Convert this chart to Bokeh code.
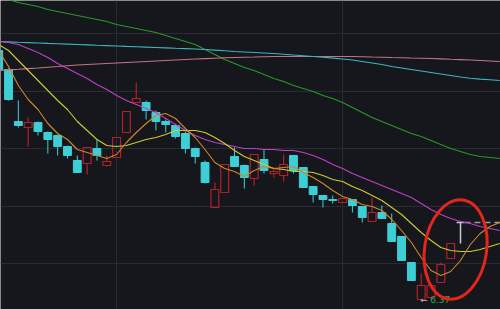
import numpy as np
from bokeh.plotting import figure
from bokeh.models import Range1d, FixedTicker, Grid
from bokeh.core.properties import value
from bokeh.embed import file_html
from bokeh.resources import INLINE

# ---- daily candles (price) ----
open_ = [8.87, 8.68, 8.16, 8.10, 8.15, 8.05, 8.02, 7.91, 7.77, 7.74,
         7.89, 7.72, 7.80, 8.05, 8.35, 8.35, 8.25, 8.16, 8.12, 8.04,
         7.89, 7.75, 7.30, 7.45, 7.81, 7.72, 7.59, 7.78, 7.64, 7.62,
         7.82, 7.70, 7.51, 7.42, 7.38, 7.35, 7.38, 7.31, 7.16, 7.25,
         7.14, 7.01, 6.75, 6.38, 6.40, 6.55, 6.79, 7.15]
high = [8.89, 8.69, 8.37, 8.20, 8.16, 8.06, 8.03, 7.92, 7.82, 7.90,
        7.98, 7.82, 8.00, 8.26, 8.55, 8.37, 8.27, 8.18, 8.13, 8.06,
        7.90, 7.77, 7.55, 7.73, 7.90, 7.73, 7.83, 7.88, 7.70, 7.83,
        7.82, 7.70, 7.51, 7.42, 7.42, 7.40, 7.38, 7.31, 7.40, 7.32,
        7.24, 7.01, 6.75, 6.64, 6.54, 6.75, 6.94, 7.15]
low = [8.67, 8.37, 8.10, 7.91, 8.02, 7.84, 7.82, 7.79, 7.65, 7.63,
       7.77, 7.71, 7.80, 8.05, 8.35, 8.18, 8.07, 8.05, 7.99, 7.84,
       7.74, 7.54, 7.30, 7.45, 7.71, 7.49, 7.52, 7.64, 7.60, 7.56,
       7.64, 7.50, 7.35, 7.30, 7.34, 7.35, 7.25, 7.15, 7.16, 7.19,
       6.96, 6.77, 6.57, 6.37, 6.40, 6.55, 6.79, 6.94]
close = [8.68, 8.38, 8.12, 8.15, 8.06, 7.98, 7.91, 7.82, 7.65, 7.90,
         7.82, 7.76, 8.00, 8.26, 8.39, 8.27, 8.16, 8.13, 8.01, 7.89,
         7.81, 7.55, 7.48, 7.73, 7.71, 7.60, 7.83, 7.67, 7.66, 7.73,
         7.67, 7.50, 7.43, 7.38, 7.37, 7.39, 7.32, 7.20, 7.25, 7.19,
         6.96, 6.77, 6.57, 6.52, 6.52, 6.73, 6.94, 7.15]

# ---- moving averages (price, one value per day slot) ----
ma5 = [8.87, 8.71, 8.52, 8.38, 8.28, 8.14, 8.04, 7.98, 7.88, 7.85,
       7.82, 7.79, 7.83, 7.95, 8.05, 8.14, 8.22, 8.24, 8.19, 8.09,
       8.00, 7.88, 7.75, 7.69, 7.66, 7.61, 7.67, 7.71, 7.69, 7.70,
       7.71, 7.65, 7.60, 7.54, 7.47, 7.41, 7.38, 7.33, 7.31, 7.27,
       7.18, 7.07, 6.95, 6.80, 6.67, 6.62, 6.66, 6.77, 6.93, 7.04,
       7.11, 7.15]
ma10 = [8.93, 8.87, 8.77, 8.67, 8.57, 8.47, 8.37, 8.28, 8.16, 8.07,
        7.98, 7.92, 7.91, 7.92, 7.95, 7.98, 8.00, 8.03, 8.07, 8.07,
        8.07, 8.05, 8.00, 7.94, 7.87, 7.81, 7.77, 7.73, 7.69, 7.68,
        7.66, 7.66, 7.65, 7.62, 7.58, 7.56, 7.51, 7.47, 7.42, 7.37,
        7.30, 7.23, 7.14, 7.05, 6.97, 6.90, 6.87, 6.86, 6.86, 6.88,
        6.91, 6.94]
ma20 = [8.96, 8.95, 8.93, 8.89, 8.85, 8.80, 8.74, 8.69, 8.64, 8.59,
        8.53, 8.48, 8.42, 8.37, 8.33, 8.29, 8.25, 8.19, 8.13, 8.07,
        8.02, 7.98, 7.95, 7.93, 7.91, 7.89, 7.89, 7.88, 7.88, 7.87,
        7.87, 7.85, 7.82, 7.78, 7.73, 7.69, 7.64, 7.60, 7.56, 7.52,
        7.48, 7.44, 7.40, 7.34, 7.28, 7.23, 7.19, 7.16, 7.14, 7.11,
        7.09, 7.07]
ma60 = [9.41, 9.38, 9.35, 9.33, 9.31, 9.28, 9.26, 9.24, 9.22, 9.20,
        9.18, 9.16, 9.13, 9.11, 9.09, 9.07, 9.05, 9.02, 8.99, 8.96,
        8.93, 8.88, 8.83, 8.78, 8.74, 8.70, 8.67, 8.63, 8.59, 8.56,
        8.52, 8.49, 8.46, 8.42, 8.39, 8.35, 8.30, 8.25, 8.20, 8.16,
        8.12, 8.08, 8.04, 8.01, 7.97, 7.93, 7.89, 7.86, 7.83, 7.81,
        7.80, 7.79]
ma120 = [8.960, 8.956, 8.952, 8.949, 8.945, 8.941, 8.938, 8.934, 8.930, 8.926,
         8.922, 8.919, 8.915, 8.911, 8.908, 8.904, 8.900, 8.896, 8.892, 8.889,
         8.885, 8.880, 8.874, 8.867, 8.860, 8.855, 8.850, 8.845, 8.840, 8.833,
         8.825, 8.818, 8.810, 8.802, 8.794, 8.785, 8.775, 8.760, 8.745, 8.730,
         8.710, 8.695, 8.680, 8.665, 8.650, 8.635, 8.620, 8.605, 8.593, 8.584,
         8.577, 8.570]
ma250 = [8.670, 8.676, 8.682, 8.689, 8.695, 8.703, 8.710, 8.718, 8.725, 8.730,
         8.735, 8.740, 8.745, 8.750, 8.755, 8.760, 8.765, 8.770, 8.775, 8.780,
         8.785, 8.789, 8.793, 8.797, 8.800, 8.803, 8.805, 8.808, 8.810, 8.810,
         8.810, 8.810, 8.810, 8.810, 8.810, 8.810, 8.810, 8.808, 8.805, 8.803,
         8.800, 8.798, 8.795, 8.793, 8.790, 8.786, 8.782, 8.779, 8.775, 8.770,
         8.765, 8.760]

grid_levels = [9.04, 8.465, 7.89, 7.315, 6.74]
grid_days = [12, 35]
low_index = 43
low_value = 6.37
low_text = "6.37"
highlight_x = 46.5
highlight_y = 6.88

X_START, X_END = 0.183, 51.07
Y_START, Y_END = 6.28, 9.37

BG = "#16171d"
UP = "#b3202a"
DOWN = "#3ecfd6"
FLAT = "#c8c8c8"

p = figure(width=500, height=309,
           x_range=Range1d(X_START, X_END), y_range=Range1d(Y_START, Y_END),
           x_axis_location=None, y_axis_location=None,
           toolbar_location=None, output_backend="svg", min_border=0,
           background_fill_color=BG, border_fill_color=BG,
           outline_line_color=None)
for g in list(p.center):
    if isinstance(g, Grid):
        p.center.remove(g)
p.add_layout(Grid(dimension=0, ticker=FixedTicker(ticks=grid_days),
                  grid_line_color="#2a2b32", grid_line_width=1))
p.add_layout(Grid(dimension=1, ticker=FixedTicker(ticks=grid_levels),
                  grid_line_color="#2a2b32", grid_line_width=1))

o = np.array(open_)
h = np.array(high)
l = np.array(low)
c = np.array(close)
idx = np.arange(len(c))
flat = np.isclose(o, c)
up = (c > o) & ~flat
down = (c < o) & ~flat
W = 0.8

# down candles: filled cyan
p.segment(x0=idx[down], y0=h[down], x1=idx[down], y1=l[down], line_color=DOWN, line_width=1)
p.vbar(x=idx[down], top=o[down], bottom=c[down], width=W,
       fill_color=DOWN, line_color=DOWN, line_width=1)

# up candles: hollow red
p.segment(x0=idx[up], y0=h[up], x1=idx[up], y1=c[up], line_color=UP, line_width=1.2)
p.segment(x0=idx[up], y0=o[up], x1=idx[up], y1=l[up], line_color=UP, line_width=1.2)
p.vbar(x=idx[up], top=c[up], bottom=o[up], width=W,
       fill_color=None, line_color=UP, line_width=1.2)

# flat (doji) candles
p.segment(x0=idx[flat], y0=h[flat], x1=idx[flat], y1=l[flat], line_color=FLAT, line_width=1.5)
p.segment(x0=idx[flat] - W / 2, y0=c[flat], x1=idx[flat] + W / 2, y1=c[flat],
          line_color=FLAT, line_width=1.5)

# last price dashed line
p.segment(x0=[idx[-1] + W / 2], y0=[c[-1]], x1=[X_END], y1=[c[-1]],
          line_color="#9c9c9c", line_width=1.5, line_dash="6 4")

# moving averages
for series, color in [(ma60, "#2b962b"), (ma250, "#c27482"), (ma120, "#3bb6be"),
                      (ma20, "#c13fc6"), (ma10, "#cfcb2a"), (ma5, "#d0862a")]:
    p.line(np.arange(len(series)), series, line_color=color, line_width=1.1)

# low marker
p.text(x=[low_index], y=[low_value], text=["←"], text_color="#b5b5b5",
       text_font=value("DejaVu Sans"), text_font_size="9px",
       text_align="left", text_baseline="middle", x_offset=-1, y_offset=-1)
p.text(x=[low_index], y=[low_value], text=[low_text], text_color="#2fae4a",
       text_font=value("DejaVu Sans"), text_font_size="9px",
       text_align="left", text_baseline="middle", x_offset=9, y_offset=-1)

# red highlight ellipse
p.ellipse(x=[highlight_x], y=[highlight_y], width=62, height=100, angle=-0.15,
          width_units="screen", height_units="screen",
          fill_color=None, line_color="#e3261b", line_width=3)

html = file_html(p, INLINE)
html = html.replace("<body>", '<body style="margin:0;padding:0;background:#16171d;overflow:hidden">', 1)
open("out.html", "w").write(html)
